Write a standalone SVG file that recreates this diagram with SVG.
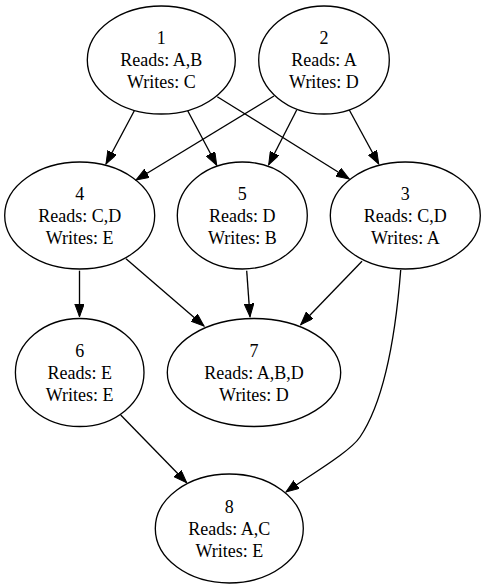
<svg xmlns="http://www.w3.org/2000/svg" width="485" height="588" viewBox="0 0 485 588">
<style>
  .node ellipse { fill: none; stroke: #000; stroke-width: 1.33; }
  .node text { font-family: "Liberation Serif", "Times New Roman", serif; font-size: 18px; text-anchor: middle; fill: #000; }
  .edges path { fill: none; stroke: #000; stroke-width: 1.33; marker-end: url(#arrow); }
</style>
<defs>
  <marker id="arrow" markerUnits="userSpaceOnUse" markerWidth="14" markerHeight="10" refX="13" refY="4.8" orient="auto">
    <path d="M0,0 L13,4.8 L0,9.6 z" fill="#000" stroke="#000" stroke-width="1"/>
  </marker>
</defs>
<rect width="485" height="588" fill="#fff"/>
<g class="edges" id="edges">
  <path d="M134.3,110.7 L106,164"/>
  <path d="M187.7,110.7 L216.7,165.3"/>
  <path d="M217.3,96.7 L349.3,179"/>
  <path d="M274,96 L136,180"/>
  <path d="M296.7,110 L268.7,164.7"/>
  <path d="M349.3,110 L378.7,164"/>
  <path d="M79.5,270.7 L79.5,316.7"/>
  <path d="M126,258.7 L204,326"/>
  <path d="M246.7,270.7 L250,316.7"/>
  <path d="M362,261.3 L300.7,324.7"/>
  <path d="M400.7,270 C396,330 385,400 360,437 C350,452 310,475 286,492"/>
  <path d="M120.7,415 L186.7,482.7"/>
</g>
<g class="node" id="node1">
  <ellipse cx="161.3" cy="60" rx="74" ry="54"/>
  <text x="161.3" y="44">1</text>
  <text x="161.3" y="66">Reads: A,B</text>
  <text x="161.3" y="88">Writes: C</text>
</g>
<g class="node" id="node2">
  <ellipse cx="324" cy="60" rx="65.3" ry="54"/>
  <text x="324" y="44">2</text>
  <text x="324" y="66">Reads: A</text>
  <text x="324" y="88">Writes: D</text>
</g>
<g class="node" id="node4">
  <ellipse cx="79.7" cy="215.5" rx="75" ry="53.5"/>
  <text x="79.7" y="200">4</text>
  <text x="79.7" y="222">Reads: C,D</text>
  <text x="79.7" y="244">Writes: E</text>
</g>
<g class="node" id="node5">
  <ellipse cx="242.3" cy="215.5" rx="65" ry="53.5"/>
  <text x="242.3" y="200">5</text>
  <text x="242.3" y="222">Reads: D</text>
  <text x="242.3" y="244">Writes: B</text>
</g>
<g class="node" id="node3">
  <ellipse cx="405.3" cy="215.5" rx="75" ry="53.5"/>
  <text x="405.3" y="200">3</text>
  <text x="405.3" y="222">Reads: C,D</text>
  <text x="405.3" y="244">Writes: A</text>
</g>
<g class="node" id="node6">
  <ellipse cx="79.7" cy="372.5" rx="64.3" ry="54"/>
  <text x="79.7" y="357">6</text>
  <text x="79.7" y="379">Reads: E</text>
  <text x="79.7" y="401">Writes: E</text>
</g>
<g class="node" id="node7">
  <ellipse cx="254" cy="372.5" rx="86.7" ry="54"/>
  <text x="254" y="357">7</text>
  <text x="254" y="379">Reads: A,B,D</text>
  <text x="254" y="401">Writes: D</text>
</g>
<g class="node" id="node8">
  <ellipse cx="229.3" cy="528.5" rx="74" ry="54.5"/>
  <text x="229.3" y="513">8</text>
  <text x="229.3" y="535">Reads: A,C</text>
  <text x="229.3" y="557">Writes: E</text>
</g>
</svg>
